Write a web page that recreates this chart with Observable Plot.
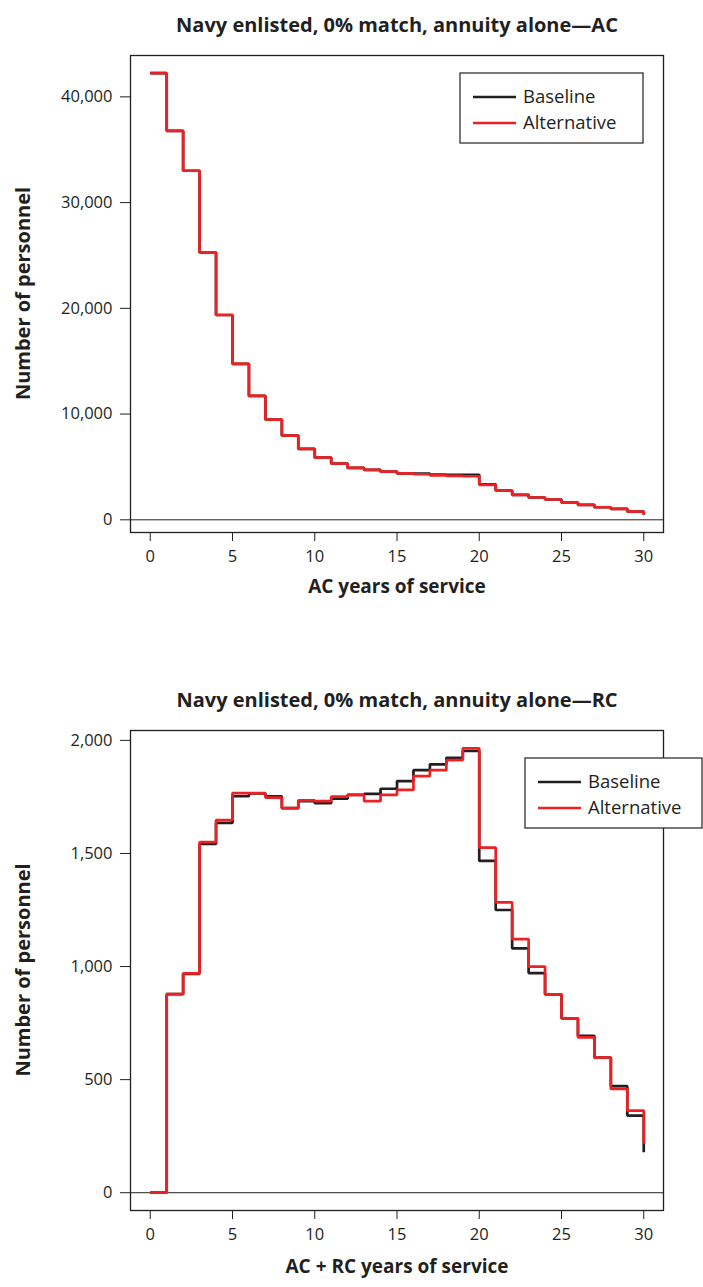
<!DOCTYPE html>
<html><head><meta charset="utf-8">
<script src="https://cdn.jsdelivr.net/npm/d3@7"></script>
<script src="https://cdn.jsdelivr.net/npm/@observablehq/plot@0.6"></script>
<style>
html,body{margin:0;padding:0;background:#fff;overflow:hidden;}
svg{display:block;}
</style></head><body><div id="c"></div>
<script>
const years = [0,1,2,3,4,5,6,7,8,9,10,11,12,13,14,15,16,17,18,19,20,21,22,23,24,25,26,27,28,29,30];
const acBaseline    = [42240,36790,33010,25290,19370,14740,11720,9480,7970,6710,5890,5320,4910,4720,4560,4400,4375,4280,4250,4250,3360,2770,2360,2110,1920,1630,1420,1190,1040,780,470];
const acAlternative = [42240,36790,33010,25290,19370,14740,11720,9480,7970,6710,5890,5320,4910,4720,4560,4400,4310,4210,4160,4120,3310,2770,2360,2110,1920,1630,1420,1190,1040,780,470];
const rcBaseline    = [0,878,968,1542,1635,1753,1765,1753,1700,1731,1722,1742,1759,1763,1786,1820,1868,1894,1923,1953,1467,1250,1080,971,877,771,694,597,471,341,179];
const rcAlternative = [0,878,970,1550,1648,1767,1767,1747,1700,1735,1731,1751,1759,1731,1759,1781,1842,1868,1913,1965,1526,1284,1121,1000,877,771,687,597,459,363,216];
const xTicks = [0,5,10,15,20,25,30];
const acYTicks = [0,10000,20000,30000,40000];
const rcYTicks = [0,500,1000,1500,2000];
const seriesNames = ["Baseline","Alternative"];
const seriesColors = ["#231f20","#ed2024"];

const INK = "#231f20";
const FONT = "'Open Sans', 'Noto Sans', sans-serif";

function chart({title, xLabel, base, alt, yTicks, yDomain, height, marginTop, marginBottom, xLabelDy, legend}) {
  const rows = [];
  years.forEach((y,i) => { rows.push({year:y, value:base[i], series:seriesNames[0]}); });
  years.forEach((y,i) => { rows.push({year:y, value:alt[i], series:seriesNames[1]}); });
  const svg = Plot.plot({
    width: 703, height,
    marginLeft: 130, marginRight: 40, marginTop, marginBottom,
    style: {fontFamily: FONT, fontSize: "16.5px", color: INK, background: "#fff", overflow: "visible"},
    x: {domain: [-1.2, 31.2], ticks: xTicks, tickSize: 9, tickPadding: 9, label: null, tickFormat: d3.format("d")},
    y: {domain: yDomain, ticks: yTicks, tickSize: 10, tickPadding: 8, label: null, tickFormat: d3.format(",")},
    color: {domain: seriesNames, range: seriesColors},
    marks: [
      Plot.ruleY([0], {stroke: INK, strokeWidth: 1}),
      Plot.line(rows, {x: "year", y: "value", z: "series", stroke: "series", curve: "step-after", strokeWidth: 2.7, strokeLinejoin: "miter", strokeLinecap: "butt"}),
      Plot.frame({stroke: INK, strokeWidth: 1.3}),
      Plot.text([title], {text: d => d, frameAnchor: "top", dy: -38, fontWeight: "bold", fontSize: 20, fill: INK}),
      Plot.text([xLabel], {text: d => d, frameAnchor: "bottom", dy: xLabelDy, fontWeight: "bold", fontSize: 19, fill: INK})
    ]
  });
  const s = d3.select(svg);
  // y-axis title
  s.append("text")
    .attr("transform", `translate(23,${(marginTop + height - marginBottom) / 2}) rotate(-90)`)
    .attr("text-anchor", "middle").attr("dy", "0.35em")
    .attr("font-family", FONT).attr("font-size", 20).attr("font-weight", "bold").attr("fill", INK)
    .text("Number of personnel");
  // legend
  const g = s.append("g").attr("font-family", FONT).attr("font-size", 18.5).attr("text-anchor", "start");
  g.append("rect").attr("x", legend.x).attr("y", legend.y).attr("width", legend.w).attr("height", legend.h)
    .attr("fill", "#fff").attr("stroke", INK).attr("stroke-width", 1.2);
  seriesNames.forEach((name, i) => {
    const yy = legend.y + 24 + i * 26;
    g.append("line").attr("x1", legend.x + 13).attr("x2", legend.x + 56).attr("y1", yy).attr("y2", yy)
      .attr("stroke", seriesColors[i]).attr("stroke-width", 2.7);
    g.append("text").attr("x", legend.x + 63).attr("y", yy).attr("dy", "0.35em").attr("fill", INK).text(name);
  });
  return svg;
}

const c = document.getElementById("c");
c.appendChild(chart({
  title: "Navy enlisted, 0% match, annuity alone\u2014AC",
  xLabel: "AC years of service",
  base: acBaseline, alt: acAlternative, yTicks: acYTicks, yDomain: [-1200, 43911],
  height: 643, marginTop: 55, marginBottom: 111, xLabelDy: 60,
  legend: {x: 460, y: 73, w: 183, h: 70}
}));
c.appendChild(chart({
  title: "Navy enlisted, 0% match, annuity alone\u2014RC",
  xLabel: "AC + RC years of service",
  base: rcBaseline, alt: rcAlternative, yTicks: rcYTicks, yDomain: [-78.6, 2043.6],
  height: 644, marginTop: 87, marginBottom: 77, xLabelDy: 62,
  legend: {x: 525, y: 115, w: 177, h: 70}
}));
</script>
</body></html>
